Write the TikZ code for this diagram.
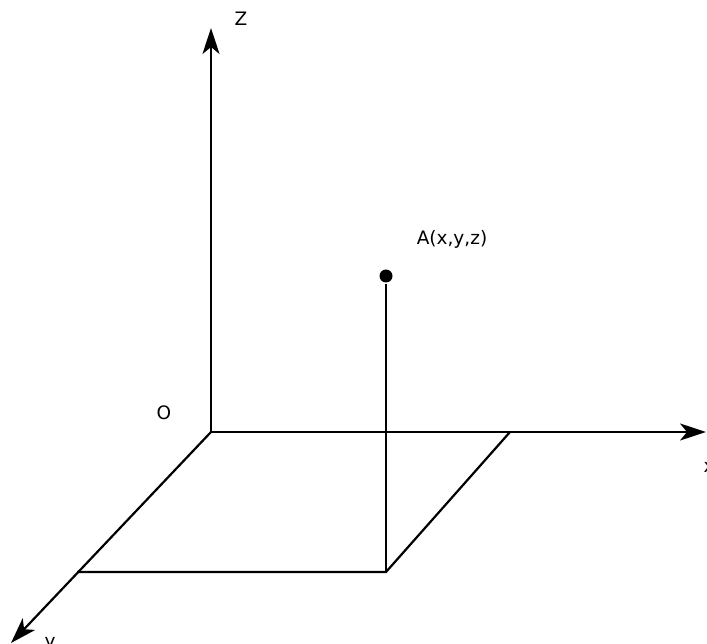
\documentclass[tikz,border=0pt]{standalone}
\usepackage{fontspec}
\setmainfont{DejaVu Sans}
\usetikzlibrary{arrows.meta}
\begin{document}
\begin{tikzpicture}[x=1pt,y=-1pt,line width=2.2pt,
  axis/.style={-{Stealth[length=26pt,width=17pt,inset=7pt]}},
  lbl/.style={anchor=base,inner sep=0pt,font=\fontsize{18.5}{20}\selectfont}]
        \useasboundingbox (0,0) rectangle (707,644);
        \coordinate (O) at (211,432);
        \coordinate (Z) at (211,28);
        \coordinate (X) at (706,432);
        \coordinate (Y) at (11,643);
        \coordinate (P) at (510,432);
        \coordinate (Q) at (386,572);
        \coordinate (R) at (77,572);
        \draw (386,276) node[circle,fill,inner sep=0pt,minimum size=13pt] (A) {};
        \draw (241,26) node[lbl] (zl) {Z};
        \draw (164,419) node[lbl] (ol) {O};
        \draw (452,245) node[lbl] (al) {A(x,y,z)};
        \draw (709,472) node[lbl] (xl) {x};
        \draw (50,647) node[lbl] (yl) {y};
        \draw[axis] (O)--(Z);
        \draw[axis] (O)--(X);
        \draw[axis] (O)--(Y);
        \draw (P)--(Q)--(R);
        \draw (Q)--(A);
\end{tikzpicture}
\end{document}
